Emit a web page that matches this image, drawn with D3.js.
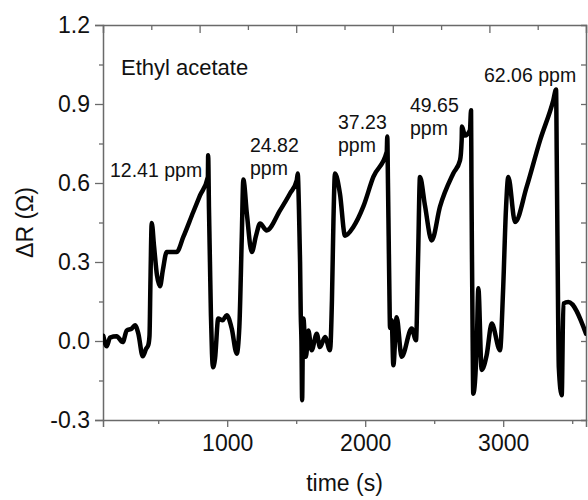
<!DOCTYPE html>
<html>
<head>
<meta charset="utf-8">
<script src="https://cdn.jsdelivr.net/npm/d3@7"></script>
<style>
  html, body { margin: 0; padding: 0; background: #fff; }
  svg { display: block; font-family: "Liberation Sans", Arial, sans-serif; }
</style>
</head>
<body>
<svg id="chart" width="588" height="500"></svg>
<script>
// ---- data ----
const time = [
  102,127,151,199,243,272,308,332,356,388,412,428,437,444,453,470,491,513,534,562,
  634,682,754,803,860,862,868,875,882,890,897,912,935,967,996,1033,1069,1088,1105,1117,
  1143,1178,1209,1238,1286,1383,1455,1504,1511,1520,1528,1533,1538,1543,1548,1552,1571,1588,1612,1649,
  1672,1709,1745,1759,1770,1781,1817,1854,1914,1986,2059,2156,2160,2165,2170,2175,2180,2192,2204,2228,
  2264,2337,2368,2383,2397,2433,2482,2542,2638,2687,2699,2701,2723,2759,2767,2770,2774,2778,2783,2808,
  2820,2844,2880,2917,2977,2999,3020,3037,3086,3170,3267,3363,3383,3388,3393,3398,3403,3424,3436,3472,
  3600
];
const deltaR = [
  0.020,-0.020,0.013,0.018,-0.004,0.040,0.047,0.060,0.028,-0.058,-0.030,-0.016,0.020,0.230,0.448,0.360,0.250,0.208,0.270,0.338,
  0.338,0.395,0.490,0.553,0.623,0.705,0.500,0.300,0.100,-0.050,-0.100,-0.066,0.085,0.079,0.098,0.047,-0.048,0.053,0.380,0.613,
  0.480,0.338,0.400,0.446,0.420,0.496,0.560,0.610,0.636,0.500,0.300,0.100,0.000,-0.225,0.000,0.085,-0.060,0.040,-0.035,0.028,
  -0.023,0.015,-0.035,0.155,0.460,0.636,0.560,0.400,0.433,0.510,0.623,0.718,0.777,0.600,0.400,0.200,0.050,0.079,-0.092,0.090,
  -0.060,0.047,0.003,0.310,0.623,0.515,0.382,0.510,0.636,0.686,0.762,0.815,0.780,0.800,0.876,0.600,0.300,0.050,-0.200,-0.020,
  0.200,-0.110,-0.054,0.066,-0.035,0.190,0.500,0.623,0.452,0.585,0.762,0.914,0.955,0.700,0.400,0.100,-0.100,-0.206,0.142,0.148,
  0.028
];
const yMajor = [-0.3, 0.0, 0.3, 0.6, 0.9, 1.2];
const yMinor = [-0.15, 0.15, 0.45, 0.75, 1.05];
const yRight = [-0.15, 0.0, 0.15, 0.3, 0.45, 0.6, 0.75, 0.9, 1.05];
const xMajor = [1000, 2000, 3000];
const xMinor = [500, 1500, 2500, 3500];
const xTopMajor = [800, 1500, 2200, 2900];
const xTopMinor = [450, 1150, 1850, 2550, 3250];
const annText = ["12.41 ppm", "24.82|ppm", "37.23|ppm", "49.65|ppm", "62.06 ppm"];

// ---- layout ----
const svg = d3.select("#chart");
const x = d3.scaleLinear().domain([100, 3600]).range([103, 586]);
const y = d3.scaleLinear().domain([-0.3, 1.2]).range([420, 25]);
const axisColor = "#6a6a6a";
const fmt = d => d.toFixed(1);

function styleAxis(g) {
  g.select(".domain").attr("stroke", axisColor).attr("stroke-width", 1.5);
  g.selectAll(".tick line").attr("stroke", axisColor).attr("stroke-width", 1.3);
  g.selectAll(".tick text").attr("fill", "#111").attr("font-size", 23);
}

// frame: top and right axes (ticks inward)
svg.append("g").attr("transform", "translate(0,25)")
  .call(d3.axisBottom(x).tickValues(xTopMajor).tickSize(8).tickFormat(""))
  .call(styleAxis);
svg.append("g").attr("transform", "translate(0,25)")
  .call(d3.axisBottom(x).tickValues(xTopMinor).tickSize(5).tickFormat(""))
  .call(styleAxis).select(".domain").remove();
svg.append("g").attr("transform", "translate(586,0)")
  .call(d3.axisLeft(y).tickValues(yRight).tickSize(5).tickFormat(""))
  .call(styleAxis);

// bottom axis
svg.append("g").attr("transform", "translate(0,420)")
  .call(d3.axisBottom(x).tickValues(xMajor).tickSize(7).tickPadding(8).tickFormat(d3.format("d")))
  .call(styleAxis);
svg.append("g").attr("transform", "translate(0,420)")
  .call(d3.axisBottom(x).tickValues(xMinor).tickSize(4).tickFormat(""))
  .call(styleAxis).select(".domain").remove();

// left axis
svg.append("g").attr("transform", "translate(103,0)")
  .call(d3.axisLeft(y).tickValues(yMajor).tickSize(8).tickPadding(5).tickFormat(fmt))
  .call(styleAxis);
svg.append("g").attr("transform", "translate(103,0)")
  .call(d3.axisLeft(y).tickValues(yMinor).tickSize(4).tickFormat(""))
  .call(styleAxis).select(".domain").remove();

// data
const data = time.map((t, i) => ({ t, v: deltaR[i] }));
svg.append("clipPath").attr("id", "plotclip").append("rect")
  .attr("x", 103).attr("y", 25).attr("width", 483).attr("height", 395);
svg.append("path")
  .datum(data)
  .attr("clip-path", "url(#plotclip)")
  .attr("fill", "none")
  .attr("stroke", "#000")
  .attr("stroke-width", 4.5)
  .attr("stroke-linejoin", "round")
  .attr("stroke-linecap", "round")
  .attr("d", d3.line().curve(d3.curveMonotoneX).x(d => x(d.t)).y(d => y(d.v)));

// axis titles
svg.append("text")
  .attr("x", (x.range()[0] + x.range()[1]) / 2).attr("y", 491)
  .attr("text-anchor", "middle").attr("font-size", 23).attr("fill", "#111")
  .text("time (s)");
svg.append("text")
  .attr("transform", `translate(33,${(y.range()[0] + y.range()[1]) / 2}) rotate(-90)`)
  .attr("text-anchor", "middle").attr("font-size", 23).attr("fill", "#111")
  .text("ΔR (Ω)");

// annotations
svg.append("text").attr("x", 121).attr("y", 75)
  .attr("font-size", 22).attr("fill", "#111").text("Ethyl acetate");

const annX = [110, 250, 338, 410, 484];
const annY = [177, 152, 129, 112, 82];
annText.forEach((s, i) => {
  const parts = s.split("|");
  const tx = svg.append("text").attr("font-size", 19.5).attr("fill", "#111");
  parts.forEach((p, j) => {
    tx.append("tspan").attr("x", annX[i]).attr("y", annY[i] + j * 23).text(p);
  });
});
</script>
</body>
</html>
